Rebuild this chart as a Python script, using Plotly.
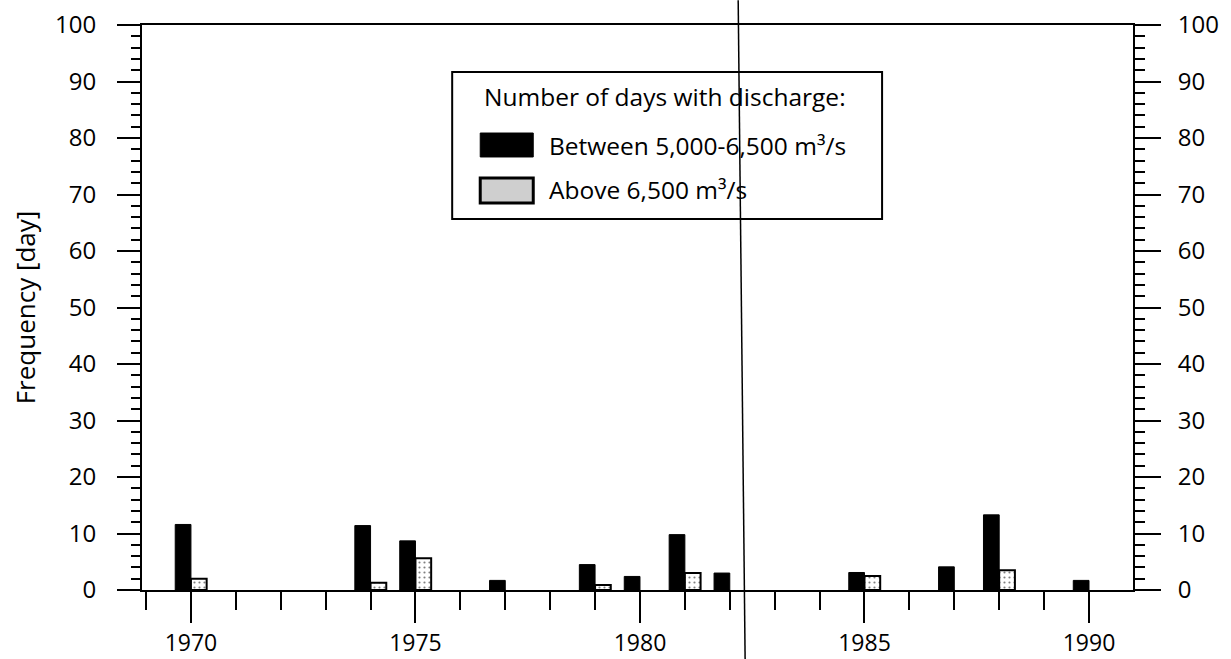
import plotly.graph_objects as go

# ---- data ----
years = list(range(1970, 1991))
between_5000_6500 = [11.6, None, None, None, 11.4, 8.7, None, 1.7, None, 4.5, 2.4,
                     9.8, 3.0, None, None, 3.1, None, 4.1, 13.3, None, 1.7]
above_6500 = [2.0, None, None, None, 1.3, 5.6, None, None, None, 0.9, None,
              3.0, None, None, None, 2.5, None, None, 3.5, None, None]
x_tick_vals = [1970, 1975, 1980, 1985, 1990]
x_tick_text = ["1970", "1975", "1980", "1985", "1990"]
y_tick_vals = list(range(0, 101, 10))

legend_title = "Number of days with discharge:"
name_between = "Between 5,000-6,500 m³/s"
name_above = "Above 6,500 m³/s"
y_title = "Frequency [day]"

FONT = "Open Sans"
TICK_SIZE = 24
LEG_SIZE = 24.5

fig = go.Figure()
fig.add_trace(go.Bar(
    x=years, y=between_5000_6500, name=name_between,
    width=0.35, offset=-0.35,
    marker=dict(color="black", line=dict(color="black", width=1)),
    showlegend=False,
))
fig.add_trace(go.Bar(
    x=years, y=above_6500, name=name_above,
    width=0.35, offset=0.0,
    marker=dict(color="white", line=dict(color="black", width=2),
                pattern=dict(shape=".", fgcolor="black", bgcolor="white",
                             size=5, solidity=0.15)),
    showlegend=False,
))
# right-hand y axis labels (invisible anchor trace)
fig.add_trace(go.Scatter(x=[years[0]], y=[0], yaxis="y2", mode="markers",
                         marker=dict(opacity=0), showlegend=False,
                         hoverinfo="skip"))

fig.update_layout(
    width=1231, height=659,
    margin=dict(l=142, r=98, t=25, b=69),
    plot_bgcolor="white", paper_bgcolor="white",
    barmode="overlay",
    font=dict(family=FONT, color="black", size=TICK_SIZE),
    xaxis=dict(
        range=[1968.91, 1990.98],
        tickmode="array", tickvals=x_tick_vals, ticktext=x_tick_text,
        ticks="outside", ticklen=31, tickwidth=2, tickcolor="black",
        minor=dict(dtick=1, tick0=1970, ticks="outside", ticklen=18,
                   tickwidth=2, tickcolor="black", showgrid=False),
        showline=True, linecolor="black", linewidth=2, mirror=True,
        showgrid=False, zeroline=False,
        tickfont=dict(size=23, family=FONT),
        ticklabelstandoff=0,
        ticklabeloverflow="allow",
        automargin=False,
    ),
    yaxis=dict(
        range=[0, 100],
        tickmode="array", tickvals=y_tick_vals,
        ticks="outside", ticklen=23, tickwidth=2, tickcolor="black",
        minor=dict(dtick=2, ticks="outside", ticklen=9, tickwidth=2,
                   tickcolor="black", showgrid=False),
        showline=True, linecolor="black", linewidth=2,
        showgrid=False, zeroline=False,
        tickfont=dict(size=TICK_SIZE, family=FONT),
        ticklabelstandoff=16,
        ticklabeloverflow="allow",
        title=dict(text=y_title, font=dict(size=26, family=FONT), standoff=12),
        automargin=False,
    ),
    yaxis2=dict(
        range=[0, 100], overlaying="y", side="right",
        tickmode="array", tickvals=y_tick_vals,
        ticks="outside", ticklen=26, tickwidth=2, tickcolor="black",
        minor=dict(dtick=2, ticks="outside", ticklen=10, tickwidth=2,
                   tickcolor="black", showgrid=False),
        showline=True, linecolor="black", linewidth=2,
        showgrid=False, zeroline=False,
        tickfont=dict(size=TICK_SIZE, family=FONT),
        ticklabelstandoff=12,
        ticklabeloverflow="allow",
        automargin=False,
    ),
)

# ---- manual legend (box, swatches, texts) ----
fig.add_shape(type="rect", xref="paper", yref="paper",
              x0=0.313, x1=0.7468, y0=0.6566, y1=0.9168,
              line=dict(color="black", width=2), fillcolor="white", layer="above")
fig.add_shape(type="rect", xref="paper", yref="paper",
              x0=0.3413, x1=0.3948, y0=0.7664, y1=0.8088,
              line=dict(color="black", width=1), fillcolor="black", layer="above")
fig.add_shape(type="rect", xref="paper", yref="paper",
              x0=0.3413, x1=0.3948, y0=0.6850, y1=0.7292,
              line=dict(color="black", width=3), fillcolor="#cfcfcf", layer="above")
fig.add_annotation(xref="paper", yref="paper", x=0.3433, y=0.8726,
                   text=legend_title, showarrow=False, xanchor="left",
                   yanchor="middle", font=dict(size=LEG_SIZE, family=FONT))
fig.add_annotation(xref="paper", yref="paper", x=0.4088, y=0.7876,
                   text=name_between, showarrow=False, xanchor="left",
                   yanchor="middle", font=dict(size=LEG_SIZE, family=FONT))
fig.add_annotation(xref="paper", yref="paper", x=0.4088, y=0.708,
                   text=name_above, showarrow=False, xanchor="left",
                   yanchor="middle", font=dict(size=LEG_SIZE, family=FONT))

# scanned page fold line crossing the figure
fig.add_shape(type="line", xref="paper", yref="paper",
              x0=0.6016, x1=0.6086, y0=1.044, y1=-0.122,
              line=dict(color="black", width=1.5), layer="above")

fig.write_html("out.html",
               config={"displayModeBar": False},
               post_script="document.body.style.margin='0px';"
                           "document.body.style.overflow='hidden';")
